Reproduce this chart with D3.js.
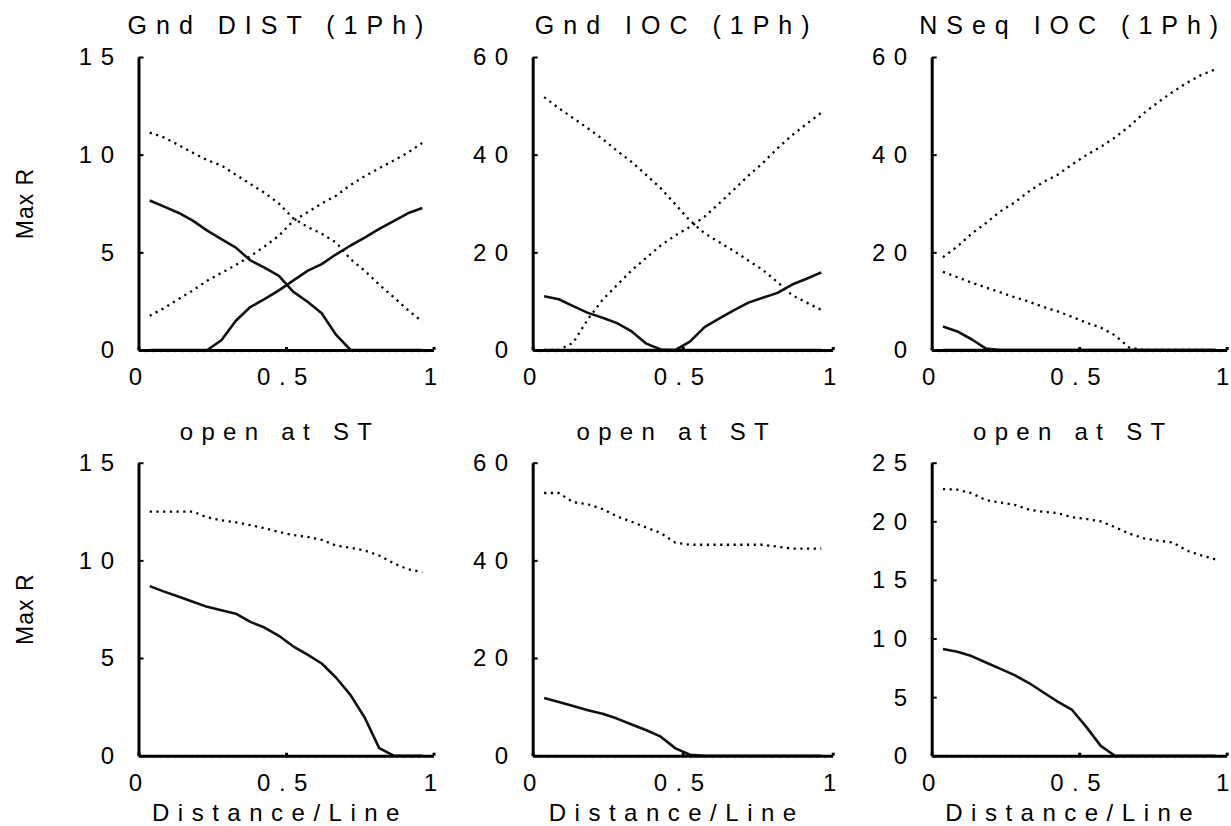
<!DOCTYPE html>
<html>
<head>
<meta charset="utf-8">
<script src="https://cdn.jsdelivr.net/npm/d3@7"></script>
<style>
  html, body { margin: 0; padding: 0; background: #ffffff; }
  svg { display: block; font-family: "Liberation Sans", Arial, sans-serif; }
</style>
</head>
<body>
<svg id="chart" width="1231" height="826"></svg>
<script>
// Fault location along the line (per-unit of line length)
const dist = [0.038, 0.087, 0.135, 0.184, 0.233, 0.281, 0.330, 0.379, 0.427, 0.476,
              0.524, 0.573, 0.621, 0.670, 0.719, 0.767, 0.816, 0.865, 0.913, 0.962];

const xTicks = [0, 0.5, 1];

// Gnd DIST (1Ph)
const gndDistLocalSolid  = [7.65, 7.34, 7.03, 6.62, 6.11, 5.68, 5.24, 4.59, 4.22, 3.79, 2.99, 2.47, 1.88, 0.77, 0, 0, 0, 0, 0, 0];
const gndDistRemoteSolid = [0, 0, 0, 0, 0, 0.5, 1.5, 2.2, 2.6, 3.05, 3.55, 4.05, 4.4, 4.9, 5.35, 5.75, 6.2, 6.6, 7.0, 7.27];
const gndDistLocalDot    = [11.13, 10.88, 10.5, 10.1, 9.72, 9.45, 8.97, 8.5, 8.05, 7.5, 6.75, 6.3, 5.95, 5.5, 4.65, 4.05, 3.35, 2.7, 2.05, 1.45];
const gndDistRemoteDot   = [1.75, 2.15, 2.6, 3.05, 3.55, 3.95, 4.35, 4.8, 5.3, 5.85, 6.6, 7.05, 7.5, 7.9, 8.45, 8.9, 9.3, 9.7, 10.1, 10.6];

// Gnd IOC (1Ph)
const gndIocLocalSolid  = [11.0, 10.4, 9.0, 7.6, 6.6, 5.5, 3.8, 1.3, 0.1, 0, 0, 0, 0, 0, 0, 0, 0, 0, 0, 0];
const gndIocRemoteSolid = [0, 0, 0, 0, 0, 0, 0, 0, 0, 0, 1.7, 4.7, 6.4, 8.1, 9.7, 10.7, 11.7, 13.4, 14.6, 15.9];
const gndIocLocalDot    = [51.8, 49.5, 47.5, 45.4, 43.2, 40.8, 38.5, 35.8, 33.1, 29.8, 26.5, 23.9, 22.1, 20.3, 18.3, 16.4, 13.9, 11.2, 9.7, 8.2];
const gndIocRemoteDot   = [0, 0, 1.5, 6.3, 10.3, 13.3, 16.3, 18.9, 21.4, 23.5, 25.2, 27.3, 30.0, 32.8, 35.7, 38.3, 41.3, 44.0, 46.3, 48.6];

// NSeq IOC (1Ph)
const nseqLocalSolid  = [4.8, 3.8, 2.2, 0.3, 0, 0, 0, 0, 0, 0, 0, 0, 0, 0, 0, 0, 0, 0, 0, 0];
const nseqRemoteSolid = [0, 0, 0, 0, 0, 0, 0, 0, 0, 0, 0, 0, 0, 0, 0, 0, 0, 0, 0, 0];
const nseqLocalDot    = [16.0, 14.9, 13.8, 12.8, 11.8, 10.8, 9.9, 8.8, 7.9, 6.8, 5.6, 4.6, 3.0, 0.5, 0, 0, 0, 0, 0, 0];
const nseqRemoteDot   = [19.0, 21.2, 23.8, 26.0, 28.4, 30.2, 32.5, 34.4, 35.9, 38.0, 39.9, 41.6, 43.5, 45.8, 48.5, 50.7, 52.8, 54.7, 56.3, 57.5];

// Remote breaker open at ST
const openDistSolid = [8.68, 8.4, 8.15, 7.88, 7.62, 7.45, 7.27, 6.85, 6.56, 6.14, 5.6, 5.17, 4.72, 3.99, 3.1, 1.94, 0.39, 0, 0, 0];
const openDistDot   = [12.5, 12.5, 12.5, 12.5, 12.2, 12.05, 11.95, 11.8, 11.65, 11.45, 11.3, 11.2, 11.05, 10.75, 10.65, 10.5, 10.25, 9.85, 9.55, 9.4];
const openIocSolid  = [11.8, 11.0, 10.2, 9.3, 8.6, 7.6, 6.4, 5.2, 3.9, 1.5, 0.2, 0, 0, 0, 0, 0, 0, 0, 0, 0];
const openIocDot    = [53.8, 53.8, 51.9, 51.5, 50.5, 49.0, 47.9, 46.7, 45.6, 43.6, 43.2, 43.2, 43.2, 43.2, 43.2, 43.2, 42.8, 42.4, 42.4, 42.4];
const openNseqSolid = [9.1, 8.87, 8.5, 7.95, 7.41, 6.87, 6.2, 5.39, 4.62, 3.9, 2.46, 0.84, 0, 0, 0, 0, 0, 0, 0, 0];
const openNseqDot   = [22.75, 22.7, 22.4, 21.8, 21.6, 21.4, 21.0, 20.8, 20.7, 20.35, 20.2, 20.0, 19.5, 18.95, 18.55, 18.35, 18.2, 17.5, 17.1, 16.75];

const titles = ["Gnd DIST (1Ph)", "Gnd IOC (1Ph)", "NSeq IOC (1Ph)", "open at ST", "open at ST", "open at ST"];
const yMax   = [15, 60, 60, 15, 60, 25];
const yTicks = [[0, 5, 10, 15], [0, 20, 40, 60], [0, 20, 40, 60], [0, 5, 10, 15], [0, 20, 40, 60], [0, 5, 10, 15, 20, 25]];
const yLabel = "Max R";
const xLabel = "Distance/Line";

const panelSeries = [
  [{ v: gndDistLocalDot, dot: true }, { v: gndDistRemoteDot, dot: true }, { v: gndDistLocalSolid, dot: false }, { v: gndDistRemoteSolid, dot: false }],
  [{ v: gndIocLocalDot, dot: true }, { v: gndIocRemoteDot, dot: true }, { v: gndIocLocalSolid, dot: false }, { v: gndIocRemoteSolid, dot: false }],
  [{ v: nseqLocalDot, dot: true }, { v: nseqRemoteDot, dot: true }, { v: nseqLocalSolid, dot: false }, { v: nseqRemoteSolid, dot: false }],
  [{ v: openDistDot, dot: true }, { v: openDistSolid, dot: false }],
  [{ v: openIocDot, dot: true }, { v: openIocSolid, dot: false }],
  [{ v: openNseqDot, dot: true }, { v: openNseqSolid, dot: false }]
];

// Layout of the 3 x 2 grid of plots
const colLeft  = [138.5, 532.7, 931.7];
const colWidth = [295, 300, 295];
const rowTop   = [57, 462.7];
const rowH     = 293;
const FONT = 24;
const LS = 8.5;
const TITLE_FONT = [25, 24];
const TITLE_LS = [9, 8.3];

const svg = d3.select("#chart");

titles.forEach((title, k) => {
  const col = k % 3, row = Math.floor(k / 3);
  const x0 = colLeft[col], w = colWidth[col], y0 = rowTop[row];
  const x = d3.scaleLinear().domain([0, 1]).range([x0, x0 + w]);
  const y = d3.scaleLinear().domain([0, yMax[k]]).range([y0 + rowH, y0]);
  const g = svg.append("g");

  // faint minor ticks under the distance axis
  g.append("g").selectAll("line")
    .data(d3.range(1, 40).map(i => i / 40))
    .join("line")
    .attr("x1", d => x(d)).attr("x2", d => x(d))
    .attr("y1", y0 + rowH + 1).attr("y2", y0 + rowH + 3)
    .attr("stroke", "#c8c8c8").attr("stroke-width", 1);

  // curves
  const line = d3.line().x((d, i) => x(dist[i])).y(d => y(d));
  panelSeries[k].forEach(s => {
    g.append("path")
      .datum(s.v)
      .attr("d", line)
      .attr("fill", "none")
      .attr("stroke", s.dot ? "#000" : "#111")
      .attr("stroke-width", s.dot ? 2.3 : 2.6)
      .attr("stroke-linejoin", "round")
      .attr("stroke-dasharray", s.dot ? "2.2,4.5" : null);
  });

  // left axis
  const ya = g.append("g")
    .attr("transform", `translate(${x0},0)`)
    .call(d3.axisLeft(y).tickValues(yTicks[k]).tickSizeInner(-5).tickSizeOuter(0).tickPadding(16).tickFormat(d => String(d)));
  ya.select(".domain").attr("stroke", "#000").attr("stroke-width", 3);
  ya.selectAll(".tick line").attr("stroke", "#000").attr("stroke-width", 2);
  ya.selectAll(".tick text")
    .attr("fill", "#000")
    .attr("font-size", FONT)
    .attr("font-family", "Liberation Sans, Arial, sans-serif")
    .attr("letter-spacing", LS)
    .attr("dy", "0.33em");

  // bottom axis; single-character labels need no letter spacing
  const xa = g.append("g")
    .attr("transform", `translate(0,${y0 + rowH})`)
    .call(d3.axisBottom(x).tickValues(xTicks).tickSizeInner(-3).tickSizeOuter(0).tickFormat(d => String(d)));
  xa.select(".domain").attr("stroke", "#000").attr("stroke-width", 3);
  xa.selectAll(".tick line").attr("stroke", "#000").attr("stroke-width", 3);
  xa.selectAll(".tick text")
    .attr("fill", "#000")
    .attr("font-size", FONT)
    .attr("font-family", "Liberation Sans, Arial, sans-serif")
    .attr("letter-spacing", d => (String(d).length > 1 ? LS : 0))
    .attr("dy", null)
    .attr("y", 35)
    .attr("dx", d => (String(d).length > 1 ? 0 : (d === 1 && col === 2 ? -4.5 : -3.5)));

  // panel title
  g.append("text")
    .attr("x", x0 + w / 2 - 6)
    .attr("y", y0 - 23)
    .attr("text-anchor", "middle")
    .attr("font-size", TITLE_FONT[row])
    .attr("letter-spacing", TITLE_LS[row])
    .attr("fill", "#000")
    .text(title);

  if (row === 1) {
    g.append("text")
      .attr("x", x0 + w / 2 - 6)
      .attr("y", y0 + rowH + 65)
      .attr("text-anchor", "middle")
      .attr("font-size", FONT)
      .attr("letter-spacing", LS)
      .attr("fill", "#000")
      .text(xLabel);
  }
  if (col === 0) {
    svg.append("text")
      .attr("transform", `translate(33,${y0 + rowH / 2}) rotate(-90)`)
      .attr("text-anchor", "middle")
      .attr("font-size", 23)
      .attr("letter-spacing", 1)
      .attr("fill", "#000")
      .text(yLabel);
  }
});
</script>
</body>
</html>
